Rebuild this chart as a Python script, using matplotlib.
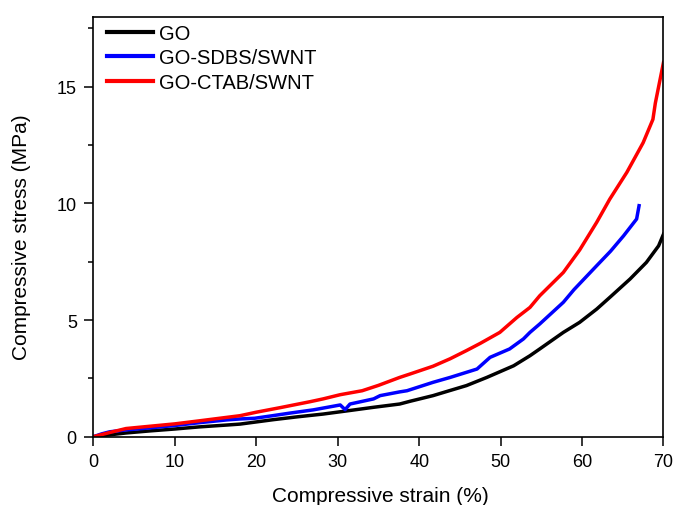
import matplotlib
matplotlib.use("Agg")
import matplotlib.pyplot as plt
from matplotlib.ticker import MultipleLocator

plt.rcParams['font.family'] = ['Liberation Sans', 'DejaVu Sans']

go_x = [0, 2, 4, 7, 10, 13, 16.4, 18, 22.1, 25, 28.2, 31, 34.4, 37.6, 38.9, 41.7, 43.5, 45.8,
        48.3, 51.6, 53.6, 54.8, 57.7, 59.7, 61.8, 63.5, 65.9, 67.9, 69.4, 70]
go_y = [0, 0.08, 0.16, 0.25, 0.33, 0.42, 0.5, 0.54, 0.73, 0.85, 0.97, 1.1, 1.26, 1.40, 1.52, 1.76, 1.95, 2.19,
        2.54, 3.04, 3.47, 3.76, 4.47, 4.9, 5.47, 6.0, 6.76, 7.47, 8.18, 8.68]

sdbs_x = [0, 1, 2, 4, 7, 10, 13, 16.4, 18, 19.8, 22, 24.1, 27, 30.3, 30.9, 31.5, 34.4, 35.2, 37.6, 38.5,
          41.7, 43.8, 47.1, 48.7, 51.1, 52.8, 53.6, 54.8, 57.7, 59, 61.8, 63.5, 65.1, 66.7, 67.0]
sdbs_y = [0, 0.12, 0.21, 0.29, 0.38, 0.48, 0.6, 0.72, 0.76, 0.79, 0.9, 1.01, 1.15, 1.36, 1.16, 1.4, 1.62, 1.76, 1.92, 1.97,
          2.33, 2.54, 2.9, 3.4, 3.76, 4.19, 4.47, 4.83, 5.76, 6.3, 7.33, 7.95, 8.61, 9.33, 9.9]

ctab_x = [0, 2, 4, 7, 10, 13, 16.4, 18, 20, 23, 26.6, 28.2, 30.3, 33, 35, 37.6, 38.9, 41.7, 43.8, 45.8, 47.5,
          49.9, 52.0, 53.6, 54.8, 57.7, 59.7, 61.8, 63.4, 65.5, 67.5, 68.7, 69.0, 70]
ctab_y = [0, 0.18, 0.35, 0.45, 0.55, 0.68, 0.83, 0.9, 1.05, 1.25, 1.5, 1.62, 1.8, 1.97, 2.2, 2.54, 2.69, 3.02, 3.34, 3.69, 4.0,
          4.47, 5.11, 5.54, 6.04, 7.04, 8.0, 9.19, 10.18, 11.33, 12.6, 13.6, 14.3, 16.04]

labels = ['GO', 'GO-SDBS/SWNT', 'GO-CTAB/SWNT']
colors = ['#000000', '#0000ff', '#ff0000']

fig = plt.figure(figsize=(6.76, 5.06), dpi=100)
ax = fig.add_axes([0.1383, 0.135, 0.8432, 0.830])

for xs, ys, lab, c in zip([go_x, sdbs_x, ctab_x], [go_y, sdbs_y, ctab_y], labels, colors):
    ax.plot(xs, ys, color=c, lw=2.5, label=lab, solid_joinstyle='round')

ax.set_xlim(0, 70)
ax.set_ylim(0, 18)
ax.xaxis.set_major_locator(MultipleLocator(10))
ax.yaxis.set_major_locator(MultipleLocator(5))
ax.yaxis.set_minor_locator(MultipleLocator(2.5))
ax.tick_params(axis='both', which='major', direction='out', length=6.5, width=1.1,
               labelsize=13, pad=5.5)
ax.tick_params(axis='y', which='minor', direction='out', length=3.5, width=1.1)
for s in ax.spines.values():
    s.set_linewidth(1.2)

ax.set_xlabel('Compressive strain (%)', fontsize=15, va='center')
ax.xaxis.set_label_coords(0.5035, -0.139)
ax.set_ylabel('Compressive stress (MPa)', fontsize=15, va='center')
ax.yaxis.set_label_coords(-0.127, 0.477)

leg = ax.legend(loc='upper left', frameon=False, fontsize=14.5, handlelength=2.3,
                handletextpad=0.3, labelspacing=0.28, borderaxespad=0.0, borderpad=0.0,
                bbox_to_anchor=(0.0237, 0.983))
for h in leg.get_lines():
    h.set_linewidth(3)

fig.savefig('out.png', dpi=100)
